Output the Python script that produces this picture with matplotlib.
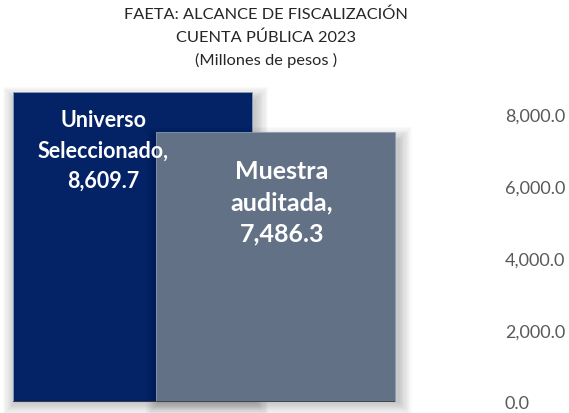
import matplotlib
matplotlib.use("Agg")
import matplotlib.pyplot as plt
from matplotlib.patches import Rectangle

categories = ["Universo\nSeleccionado,", "Muestra\nauditada,"]
values = [8609.7, 7486.3]
colors = ["#042366", "#627185"]
positions = [0.0, 0.6]
yticks = [0, 2000, 4000, 6000, 8000]
ytick_labels = ["0.0", "2,000.0", "4,000.0", "6,000.0", "8,000.0"]
title_lines = ["FAETA: ALCANCE DE FISCALIZACIÓN", "CUENTA PÚBLICA 2023", "(Millones de pesos )"]

W, H = 569, 414
fig = plt.figure(figsize=(W / 100, H / 100), dpi=100)
plt.rcParams['font.family'] = ['Lato', 'DejaVu Sans']

bar_w_px = 239
left_px = 13
right_px = 495
bottom_px = 11
ymax = 9000
px_per_val = 310 / 8609.7
top_px = H - bottom_px - ymax * px_per_val
ax = fig.add_axes([left_px / W, bottom_px / H, (right_px - left_px) / W, (H - bottom_px - top_px) / H])
ax.set_xlim(-0.5, -0.5 + (right_px - left_px) / bar_w_px)
ax.set_ylim(0, ymax)

ux = 1 / bar_w_px
uy = 1 / px_per_val

for i, (pos, v, c) in enumerate(zip(positions, values, colors)):
    # soft shadow
    for k in range(1, 12):
        e = k * 1.2
        ax.add_patch(Rectangle((pos - 0.5 - e * ux + 3 * ux, -e * uy),
                               1 + 2 * e * ux, v + 2 * e * uy - 8 * uy,
                               facecolor="#000000", alpha=0.02, edgecolor="none",
                               zorder=2 + 2 * i, clip_on=False))
    ax.add_patch(Rectangle((pos - 0.5, 0), 1, v, facecolor=c,
                           edgecolor="#8a9bb5", linewidth=0.6, zorder=3 + 2 * i))

ax.plot([positions[0] - 0.5, positions[1] + 0.5], [0, 0], color="#404040", lw=1.2,
        zorder=6, solid_capstyle="butt")

# bar labels
ax.text(positions[0] - 29.5 * ux, values[0] - 58 * uy,
        categories[0] + "\n" + f"{values[0]:,.1f}",
        ha="center", va="center", color="white", fontsize=15.5, fontweight="bold",
        linespacing=1.55, zorder=10)
ax.text(positions[1] + 6 * ux, values[1] - 69 * uy,
        categories[1] + "\n" + f"{values[1]:,.1f}",
        ha="center", va="center", color="white", fontsize=18, fontweight="bold",
        linespacing=1.42, zorder=10)

ax.yaxis.tick_right()
ax.set_yticks(yticks)
ax.set_yticklabels(ytick_labels)
ax.tick_params(axis="y", length=0, pad=7.0, labelsize=13, labelcolor="#595959")
for lab in ax.get_yticklabels():
    lab.set_ha("left")
ax.set_xticks([])
for s in ax.spines.values():
    s.set_visible(False)
ax.patch.set_alpha(0)

for j, (t, yy) in enumerate(zip(title_lines, [15, 38, 60])):
    fig.text(266 / W, 1 - yy / H, t, ha="center", va="center", fontsize=11.8, color="#262626")

fig.savefig("out.png", dpi=100)
